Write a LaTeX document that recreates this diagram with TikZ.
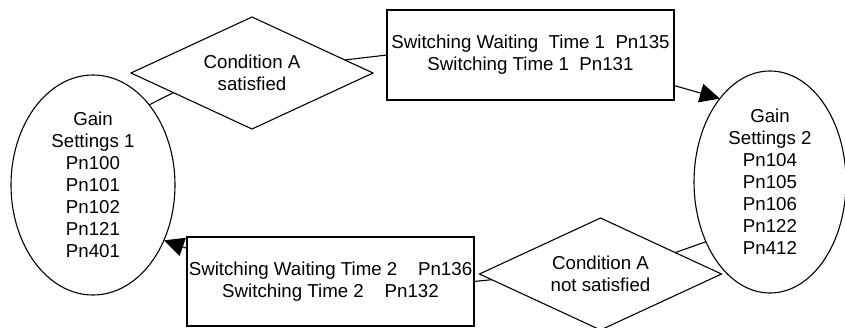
\documentclass[tikz,border=0pt]{standalone}
\usepackage{fontspec}
\setmainfont{Liberation Sans}
\usetikzlibrary{shapes.geometric,arrows.meta}
\begin{document}
\begin{tikzpicture}[x=1pt,y=-1pt,
  every node/.style={font=\fontsize{18.7}{22}\selectfont, align=center, inner sep=0pt, outer sep=0pt, line width=1.1pt},
  gain/.style={draw, ellipse},
  cond/.style={draw, diamond, aspect=2.16, minimum width=242pt, minimum height=112pt},
  timebox/.style={draw, rectangle, minimum width=287pt, minimum height=90pt},
  link/.style={line width=1.1pt},
  arr/.style={link, -{Triangle[length=20pt,width=19pt]}}]
\useasboundingbox (0,0) rectangle (845,327);
\clip (0,0) rectangle (845,327);
\node[gain, minimum width=164pt, minimum height=220pt] (g1) at (93,185)
  {Gain\\Settings 1\\Pn100\\Pn101\\Pn102\\Pn121\\Pn401};
\node[gain, minimum width=152pt, minimum height=222pt] (g2) at (770,182)
  {Gain\\Settings 2\\Pn104\\Pn105\\Pn106\\Pn122\\Pn412};
\node[cond] (d1) at (252,73) {Condition A\\satisfied};
\node[cond] (d2) at (600.5,274) {Condition A\\not satisfied};
\node[timebox] (r1) at (530.5,55)
  {Switching Waiting\hspace*{0.556em}Time 1\hspace*{0.556em}Pn135\\Switching Time 1\hspace*{0.556em}Pn131};
\node[timebox, minimum height=89pt] (r2) at (330.5,281.5)
  {Switching Waiting Time 2\hspace*{1.112em}Pn136\\Switching Time 2\hspace*{1.112em}Pn132};
\draw[link] (g1.55.5) -- (d1.194);
\draw[link] (d1.8) -- (r1.west);
\draw[arr] (r1.348) -- (g2.121.5);
\draw[link] (g2.223.2) -- (d2.16.9);
\draw[link] (d2.183.6) -- (r2.east);
\draw[arr] (r2.167.6) -- (g1.322.7);
\end{tikzpicture}
\end{document}
